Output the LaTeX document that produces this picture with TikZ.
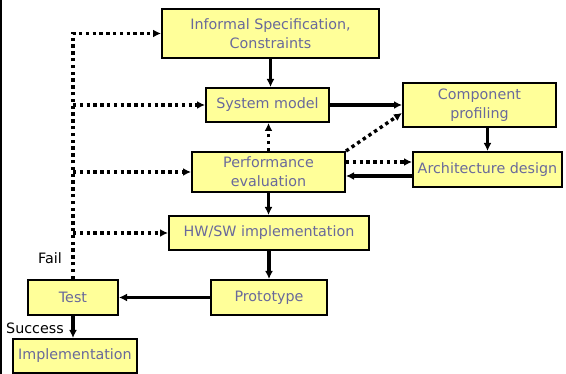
\documentclass[tikz,border=0pt]{standalone}
\usepackage{fontspec}
\setmainfont{DejaVu Sans}
\definecolor{boxyellow}{RGB}{255,255,153}
\definecolor{boxtext}{RGB}{105,105,155}
\usetikzlibrary{arrows.meta}

\begin{document}
\begin{tikzpicture}[x=1pt, y=-1pt,
        >={Latex[length=8pt,width=8pt]},   %Pfeilspitzen
        box/.style={draw, line width=2pt, fill=boxyellow, text=boxtext, align=center,
            inner sep=0pt, font=\fontsize{14.3}{19}\selectfont},
        flow/.style={->, line width=3.2pt},
        back/.style={->, line width=3.4pt, dash pattern=on 3.4pt off 3.4pt},
        lbl/.style={font=\fontsize{14.3}{16}\selectfont, inner sep=0pt}]
        \useasboundingbox (0,0) rectangle (566,374);
        % linker Rand
        \draw[line width=2.4pt] (1,0) -- (1,374);
        % Kaesten
        \node[box, minimum width=217pt, minimum height=49pt] (spec) at (270.5,33.5) {Informal Specification,\\Constraints};
        \node[box, minimum width=123pt, minimum height=34pt] (model) at (267.5,105) {System model};
        \node[box, minimum width=153pt, minimum height=44pt] (comp) at (479.5,105) {Component\\profiling};
        \node[box, minimum width=149pt, minimum height=35pt] (arch) at (487.5,169.5) {Architecture design};
        \node[box, minimum width=153pt, minimum height=40pt] (perf) at (268.5,172) {Performance\\evaluation};
        \node[box, minimum width=200pt, minimum height=34pt] (hwsw) at (269,233) {HW/SW implementation};
        \node[box, minimum width=116pt, minimum height=35pt] (proto) at (269,297.5) {Prototype};
        \node[box, minimum width=90pt, minimum height=35pt] (test) at (73,297.5) {Test};
        \node[box, minimum width=124pt, minimum height=34pt] (impl) at (75,356) {Implementation};
        % Beschriftungen
        \node[lbl, anchor=east] (fail) at (62,258) {Fail};
        \node[lbl, anchor=east] (success) at (64,328) {Success};
        % Hauptfluss
        \draw[flow] (spec.south) -- (spec.south |- model.north);
        \draw[flow] (model.east) -- (model.east -| comp.west);
        \draw[flow] (arch.north |- comp.south) -- (arch.north);
        \draw[flow] ([yshift=-6.5pt]arch.west) -- ([yshift=-6.5pt]arch.west -| perf.east);
        \draw[flow] (perf.south) -- (perf.south |- hwsw.north);
        \draw[flow] (hwsw.south) -- (hwsw.south |- proto.north);
        \draw[flow] (proto.west) -- (test.east);
        \draw[flow] (test.south) -- (test.south |- impl.north);
        % Rueckkopplung (gepunktet)
        \draw[back] ([yshift=10pt]perf.east) -- ([yshift=10pt]perf.east -| arch.west);
        \draw[back] (perf.north east) -- ([yshift=-8pt]comp.west);
        \draw[back] (perf.north) -- (perf.north |- model.south);
        \draw[back] (test.north) |- (spec.west);
        \draw[back] (test.north |- model.west) -- (model.west);
        \draw[back] (test.north |- perf.west) -- (perf.west);
        \draw[back] (test.north |- hwsw.west) -- (hwsw.west);
\end{tikzpicture}
\end{document}
